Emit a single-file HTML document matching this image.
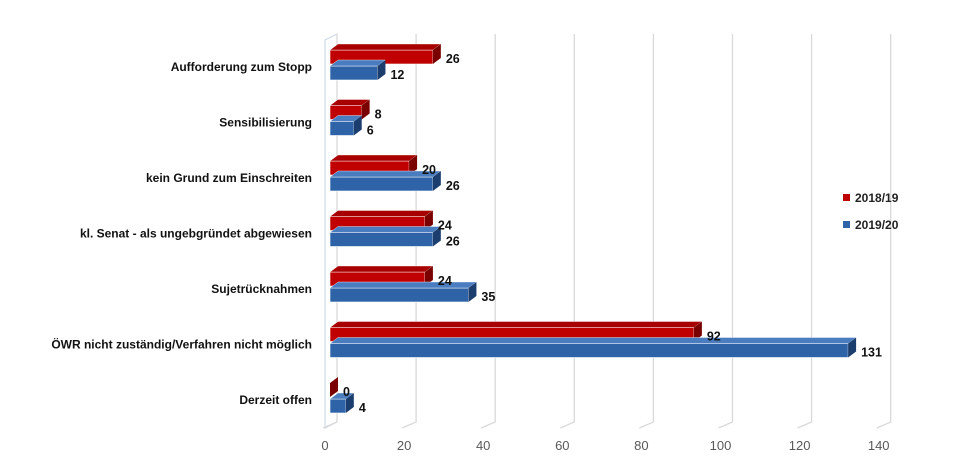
<!DOCTYPE html>
<html><head><meta charset="utf-8"><style>
body{margin:0;background:#fff}
svg{display:block;font-family:"Liberation Sans",sans-serif}
</style></head><body>
<svg width="956" height="474" viewBox="0 0 956 474">
<g id="grid"></g><g id="bars"></g><g id="labels"></g>
<g>
<rect x="843" y="194" width="7" height="7" fill="#C00000"/>
<text x="855" y="202" font-size="12" font-weight="bold" fill="#222">2018/19</text>
<rect x="843" y="221" width="7" height="7" fill="#2E63A8"/>
<text x="855" y="229" font-size="12" font-weight="bold" fill="#222">2019/20</text>
</g>
</svg>
<script>
const categories=["Aufforderung zum Stopp","Sensibilisierung","kein Grund zum Einschreiten","kl. Senat - als ungebgründet abgewiesen","Sujetrücknahmen","ÖWR nicht zuständig/Verfahren nicht möglich","Derzeit offen"];
const series2018=[26,8,20,24,24,92,0];
const series2019=[12,6,26,26,35,131,4];
const ticks=[0,20,40,60,80,100,120,140];
const NS="http://www.w3.org/2000/svg";
const x0=330, k=3.955, dx=8, dy=6, top0=38, step=55.5, bh=14;
const X=v=>x0+v*k;
function mk(t,a,p,name){const e=document.createElementNS(NS,t);for(const n in a)e.setAttribute(n,a[n]);


p.appendChild(e);return e;}
const G=document.getElementById('grid'),B=document.getElementById('bars'),L=document.getElementById('labels');
// left wall
mk('polygon',{points:`${x0-5},428 ${x0-5+dx+4},422 ${x0-5+dx+4},34 ${x0-5},40`,fill:'none',stroke:'#C9D3E3','stroke-width':1},G,'left-wall');
ticks.forEach(t=>{const x=X(t)-5;
 mk('polyline',{points:`${x-2},428 ${x+dx+4},422 ${x+dx+4},34`,fill:'none',stroke:'#D9D9D9','stroke-width':1.3},G,'gridline-'+t);
 const tx=mk('text',{x:x,y:450,'font-size':13,fill:'#595959','text-anchor':'middle'},G,'x-tick-label');tx.textContent=t;});
function bar(v,y,col,side,topc,name){const x=X(v);
 mk('rect',{x:x0,y:y,width:Math.max(x-x0,0.5),height:bh,fill:col,stroke:'#fff','stroke-width':0.6},B,name);
 mk('polygon',{points:`${x0},${y} ${x0+dx},${y-dy} ${x+dx},${y-dy} ${x},${y}`,fill:topc,stroke:'#fff','stroke-width':0.4},B,name+'-top');
 mk('polygon',{points:`${x},${y} ${x+dx},${y-dy} ${x+dx},${y+bh-dy} ${x},${y+bh}`,fill:side},B,name+'-side');
 const t=mk('text',{x:x+dx+5,y:y+bh-1,'font-size':12.5,'font-weight':'bold',fill:'#111'},L,name+'-value');t.textContent=v;}
categories.forEach((c,i)=>{const base=top0+i*step;
 const t=mk('text',{x:312,y:base+33,'font-size':12,'font-weight':'bold',fill:'#111','text-anchor':'end'},L,'category-label');t.textContent=c;
 bar(series2018[i],base+12,'#C00000','#7A0000','#A80000','bar-2018-'+i);
 bar(series2019[i],base+28,'#2E63A8','#1C3E6E','#4A7CC0','bar-2019-'+i);
});
</script>
</body></html>
